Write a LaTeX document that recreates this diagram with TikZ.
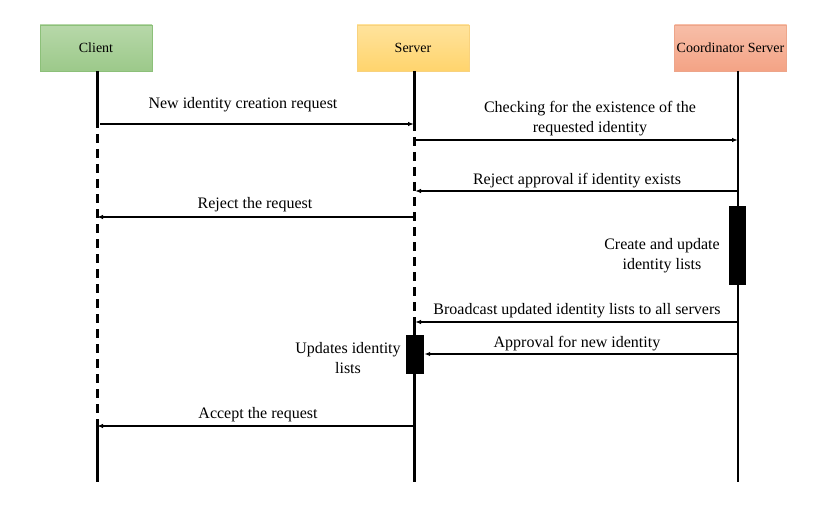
\documentclass[tikz,border=0pt]{standalone}
\usepackage{fontspec}
\setmainfont{Liberation Serif}
\usetikzlibrary{arrows.meta,calc}
\definecolor{clientTop}{HTML}{B7D8A9}
\definecolor{clientBot}{HTML}{9CC98A}
\definecolor{clientLine}{HTML}{8CC079}
\definecolor{serverTop}{HTML}{FFE39C}
\definecolor{serverBot}{HTML}{FFD46D}
\definecolor{serverLine}{HTML}{F8D27E}
\definecolor{coordTop}{HTML}{F7BEA8}
\definecolor{coordBot}{HTML}{F4A385}
\definecolor{coordLine}{HTML}{EDA58A}
\tikzset{
	head/.style={minimum width=112pt, minimum height=46pt, inner sep=0pt, line width=0.6pt, font=\fontsize{14}{16}\selectfont},
	lbl/.style={font=\fontsize{16}{20}\selectfont, align=center, inner sep=0pt},
	msg/.style={line width=1.2pt, -{Latex[length=6pt,width=4.5pt]}},
	life/.style={line width=3pt},
	gap/.style={line width=3pt, dash pattern=on 9pt off 6pt},
}
\begin{document}
\begin{tikzpicture}[x=1pt,y=-1pt]
		%%%%% START %%%%%
		\useasboundingbox (0,0) rectangle (837,505);
		
		\node[head, top color=clientTop, bottom color=clientBot, draw=clientLine] (client) at (96,48) {Client};
		\node[head, top color=serverTop, bottom color=serverBot, draw=serverLine] (server) at (413,48) {Server};
		\node[head, top color=coordTop, bottom color=coordBot, draw=coordLine] (coord) at (730.5,48) {Coordinator Server};
		
		% lifelines
		\coordinate (c0) at (97,71);   \coordinate (c1) at (97,128);
		\coordinate (c2) at (97,426);  \coordinate (c3) at (97,482);
		\coordinate (s0) at (414,71);  \coordinate (s1) at (414,131);
		\coordinate (s2) at (414,322); \coordinate (s3) at (414,482);
		\coordinate (k0) at (738,71);  \coordinate (k3) at (738,482);
		
		\draw[life] (c0) -- (c1);
		\draw[gap] ($(c1)+(0,6)$) -- (c2);
		\draw[life] (c2) -- (c3);
		\draw[life] (s0) -- (s1);
		\draw[gap] ($(s1)+(0,6)$) -- (s2);
		\draw[life] (s2) -- (s3);
		\draw[line width=2.2pt] (k0) -- (k3);
		
		% activations
		\node[fill=black, minimum width=17pt, minimum height=79pt, inner sep=0pt] (actK) at (737.5,245.5) {};
		\node[fill=black, minimum width=18pt, minimum height=39pt, inner sep=0pt] (actS) at (415,354.5) {};
		
		% messages
		\coordinate (m1a) at (100,124); \coordinate (m1b) at (414,124);
		\coordinate (m2a) at (414,140); \coordinate (m2b) at (738,140);
		\coordinate (m3a) at (738,191); \coordinate (m3b) at (415,191);
		\coordinate (m4a) at (414,217); \coordinate (m4b) at (97,217);
		\coordinate (m6a) at (738,322); \coordinate (m6b) at (415,322);
		\coordinate (m8a) at (738,354);
		\coordinate (m9a) at (414,426); \coordinate (m9b) at (97,426);
		
		\draw[msg] (m1a) -- (m1b);
		\draw[msg] (m2a) -- (m2b);
		\draw[msg] (m3a) -- (m3b);
		\draw[msg] (m4a) -- (m4b);
		\draw[msg] (m6a) -- (m6b);
		\draw[msg] (m8a) -- (actS.east |- m8a);
		\draw[msg] (m9a) -- (m9b);
		
		% labels
		\node[lbl] (lNew) at (243,105) {New identity creation request};
		\node[lbl] (lCheck) at (590,119) {Checking for the existence of the\\requested identity};
		\node[lbl] (lRejA) at (577,181) {Reject approval if identity exists};
		\node[lbl] (lRejR) at (255,205) {Reject the request};
		\node[lbl] (lCreate) at (662,256) {Create and update\\identity lists};
		\node[lbl] (lBcast) at (577,311) {Broadcast updated identity lists to all servers};
		\node[lbl] (lAppr) at (577,344) {Approval for new identity};
		\node[lbl] (lUpd) at (348,358) {Updates identity\\lists};
		\node[lbl] (lAcc) at (258,415) {Accept the request};
		
		%%%%% END %%%%%
	\end{tikzpicture}
\end{document}
